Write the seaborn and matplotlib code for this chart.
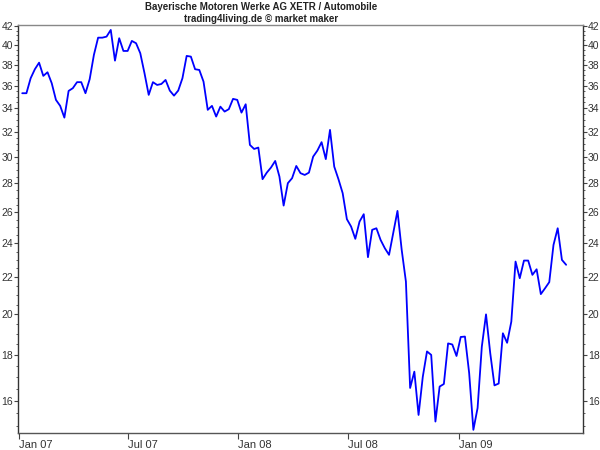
import numpy as np
import pandas as pd
import matplotlib
matplotlib.use("Agg")
import matplotlib.pyplot as plt
from matplotlib.ticker import FixedLocator, FuncFormatter, NullFormatter
import seaborn as sns

title_line1 = "Bayerische Motoren Werke AG XETR / Automobile"
title_line2 = "trading4living.de \u00a9 market maker"

start_date = "2007-01-07"
prices = [
    35.32, 35.32, 36.71, 37.57, 38.21, 36.93, 37.28, 36.24, 34.72, 34.19,
    33.17, 35.53, 35.78, 36.34, 36.34, 35.32, 36.62, 38.98, 40.75, 40.75,
    40.86, 41.57, 38.41, 40.69, 39.38, 39.38, 40.41, 40.17, 39.15, 37.19,
    35.17, 36.34, 36.08, 36.17, 36.55, 35.56, 35.10, 35.56, 36.71, 38.88,
    38.81, 37.57, 37.50, 36.39, 33.84, 34.19, 33.26, 34.12, 33.69, 33.90,
    34.81, 34.72, 33.60, 34.33, 30.92, 30.60, 30.71, 28.31, 28.79, 29.17,
    29.67, 28.50, 26.45, 28.02, 28.38, 29.29, 28.75, 28.62, 28.79, 30.00,
    30.47, 31.14, 29.81, 32.14, 29.24, 28.31, 27.31, 25.54, 25.06, 24.28,
    25.38, 25.87, 23.16, 24.85, 24.95, 24.21, 23.70, 23.30, 24.65, 26.09,
    23.60, 21.75, 16.54, 17.25, 15.43, 17.02, 18.17, 18.01, 15.17, 16.60,
    16.71, 18.55, 18.50, 17.96, 18.86, 18.88, 17.19, 14.85, 15.71, 18.39,
    19.99, 18.09, 16.65, 16.73, 19.04, 18.58, 19.62, 22.90, 21.94, 22.96,
    22.96, 22.13, 22.45, 21.06, 21.38, 21.72, 23.90, 24.95, 23.00, 22.71,
]
dates = pd.date_range(start_date, periods=len(prices), freq="7D")

y_major = list(range(16, 43, 2))
x_ticks = ["2007-01-01", "2007-07-01", "2008-01-01", "2008-07-01", "2009-01-01"]
x_labels = ["Jan 07", "Jul 07", "Jan 08", "Jul 08", "Jan 09"]

df = pd.DataFrame({"date": dates, "price": prices})

sns.set_style("white")
plt.rcParams["font.family"] = ["Liberation Sans", "DejaVu Sans"]

fig = plt.figure(figsize=(6, 4.5), dpi=100)
ax = fig.add_axes([18 / 600, 17 / 450, 565 / 600, 408 / 450])

sns.lineplot(data=df, x="date", y="price", ax=ax, color="#0000ff", linewidth=1.3)

ax.set_yscale("log")
ax.set_ylim(14.73, 42.1)
ax.set_xlim(pd.Timestamp("2006-12-31"), pd.Timestamp("2009-07-26"))

ax.yaxis.set_major_locator(FixedLocator(y_major))
ax.yaxis.set_major_formatter(FuncFormatter(lambda v, p: f"{v:.0f}"))
ax.yaxis.set_minor_locator(FixedLocator(np.arange(14.5, 42.5, 0.5)))
ax.yaxis.set_minor_formatter(NullFormatter())

ax.set_xticks([pd.Timestamp(t) for t in x_ticks])
ax.set_xticklabels(x_labels, ha="left")
ax.xaxis.set_minor_locator(FixedLocator([]))

ax.yaxis.set_ticks_position("both")
ax.tick_params(axis="y", which="major", direction="out", length=3, width=0.8,
               color="#444444", labelsize=7.5, labelcolor="#333333",
               labelleft=True, labelright=True, left=True, right=True, pad=0.5)
ax.tick_params(axis="y", which="minor", direction="out", length=1.5, width=0.6,
               color="#444444", left=True, right=True)
ax.tick_params(axis="x", which="major", direction="out", length=4, width=0.8,
               color="#444444", labelsize=8, labelcolor="#333333", pad=1, bottom=True)

for side, col in [("left", "#333333"), ("bottom", "#555555"), ("right", "#333333"), ("top", "#888888")]:
    ax.spines[side].set_visible(True)
    ax.spines[side].set_color(col)
    ax.spines[side].set_linewidth(1.0)

ax.set_xlabel("")
ax.set_ylabel("")
ax.grid(False)

fig.text(261 / 600, 1 - 7 / 450, title_line1, ha="center", va="center",
         fontsize=7, fontweight="bold", color="#222222")
fig.text(261 / 600, 1 - 19 / 450, title_line2, ha="center", va="center",
         fontsize=7, fontweight="bold", color="#222222")

fig.savefig("out.png", dpi=100, facecolor="white")
